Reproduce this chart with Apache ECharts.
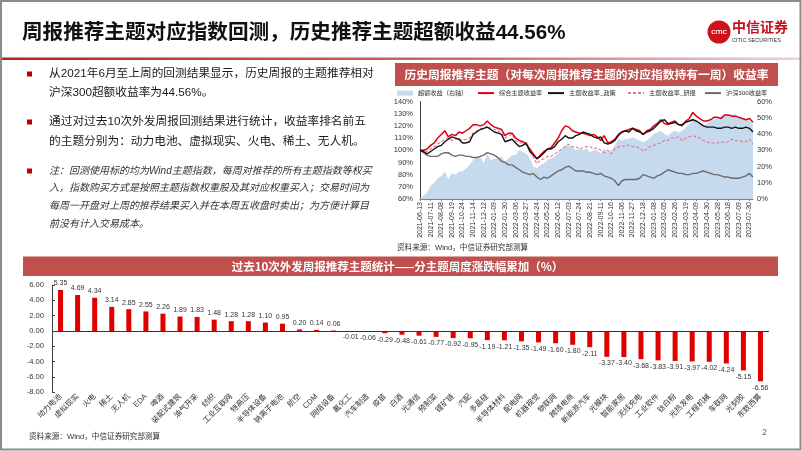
<!DOCTYPE html>
<html><head><meta charset="utf-8">
<script src="https://cdn.jsdelivr.net/npm/echarts@6/dist/echarts.min.js"></script>
<style>html,body{margin:0;padding:0;background:#fff;}#c{width:802px;height:451px;}</style>
</head><body><div id="c"></div>
<script>
const FONT = '"Liberation Sans", "Noto Sans CJK SC", sans-serif';

// ---- top chart data ----
const dates = [
 '2021-06-13','2021-06-20','2021-06-27','2021-07-11','2021-07-18','2021-07-25','2021-08-08','2021-08-15','2021-08-29','2021-09-19',
 '2021-09-26','2021-10-17','2021-10-24','2021-10-31','2021-11-07','2021-11-14','2021-11-21','2021-12-05','2021-12-12','2021-12-19',
 '2021-12-26','2022-01-09','2022-01-16','2022-01-23','2022-01-30','2022-02-13','2022-02-27','2022-03-06','2022-03-13','2022-03-20',
 '2022-03-27','2022-04-10','2022-04-17','2022-04-24','2022-05-08','2022-05-15','2022-05-22','2022-05-29','2022-06-05','2022-06-12',
 '2022-06-19','2022-06-26','2022-07-03','2022-07-10','2022-07-17','2022-07-24','2022-07-31','2022-08-14','2022-08-21','2022-08-28',
 '2022-09-04','2022-09-11','2022-09-18','2022-09-25','2022-10-16','2022-10-23','2022-10-30','2022-11-06','2022-11-13','2022-11-20',
 '2022-11-27','2022-12-04','2022-12-11','2022-12-18','2022-12-25','2023-01-01','2023-01-08','2023-01-15','2023-01-29','2023-02-05',
 '2023-02-12','2023-02-19','2023-02-26','2023-03-05','2023-03-12','2023-03-19','2023-03-26','2023-04-02','2023-04-09','2023-04-16',
 '2023-04-23','2023-04-30','2023-05-14','2023-05-21','2023-05-28','2023-06-04','2023-06-11','2023-06-18','2023-06-25','2023-07-02',
 '2023-07-09','2023-07-16','2023-07-23','2023-07-30','2023-08-06'
];
const excess = [
 0,2,4,8,10,13,14,17,12,16,
 15,17,17,19,21,24,26,26,22,28,
 24,25,25,26,23,25,27,27,30,29,
 28,25,20,19,21,22,24,25,26,28,
 31,33,33,32,30,31,30,31,29,30,
 30,28,31,29,30,33,37,36,37,37,
 38,37,36,35,36,38,40,41,42,40,
 39,41,42,41,42,44,46,49,48,46,
 45,46,48,49,50,51,52,52,52,52,
 51,50,49,48,46
];
const combined = [
 100,100,101,104,106,110,113,116,111,113,
 112,115,114,116,118,121,121,120,121,124,
 121,119,118,117,112,114,114,110,108,107,
 105,101,97,93,96,99,101,102,106,110,
 116,120,119,116,115,114,114,113,112,113,
 111,108,112,106,107,109,113,115,116,117,
 118,117,116,113,116,117,120,122,125,122,
 121,123,124,121,120,124,126,131,128,126,
 124,124,125,127,127,126,129,129,128,128,
 127,126,125,126,123
];
const policy = [
 100,99,97,99,101,103,104,107,109,111,
 110,109,106,106,107,113,115,117,118,119,
 117,115,114,113,107,108,109,106,103,104,
 106,99,96,93,95,98,101,101,103,107,
 109,112,110,110,112,113,115,114,113,111,
 110,111,106,105,106,108,112,115,116,115,
 118,116,115,113,115,116,118,121,124,125,
 122,122,123,121,121,123,124,125,124,122,
 120,119,119,119,118,118,119,119,118,119,
 118,118,119,118,115
];
const research = [
 100,100,99,101,103,105,107,109,110,108,
 109,110,108,109,110,114,116,117,118,120,
 118,117,116,114,110,112,113,108,106,106,
 104,100,94,89,92,93,95,95,97,99,
 101,103,105,103,103,101,102,103,103,101,
 102,100,98,100,97,101,103,103,104,104,
 103,103,102,99,101,103,104,105,106,108,
 108,110,110,111,108,110,111,112,111,110,
 108,107,106,106,106,107,106,107,109,108,
 108,107,107,109,105
];
const hs300 = [
 100,98,96,95,95,95,97,98,98,96,
 95,96,96,95,95,94,94,95,96,98,
 97,96,94,91,90,88,88,86,84,82,
 81,80,81,78,76,78,77,79,81,83,
 84,86,87,85,83,83,83,82,82,81,
 80,81,79,78,77,75,71,75,76,76,
 76,76,77,80,79,78,77,79,80,82,
 84,83,82,81,81,80,80,81,81,82,
 83,82,81,80,80,79,78,78,77,77,
 77,78,79,81,78
];
const seriesNames = ['超额收益（右轴）','综合主题收益率','主题收益率_政策','主题收益率_研报','沪深300收益率'];

// ---- bottom chart data ----
const themeNames = ['动力电池','虚拟现实','火电','稀土','无人机','EDA','啤酒','装配式建筑','油气开采','纺织',
 '工业互联网','特高压','半导体设备','钠离子电池','航空','CDM','网络设备','氟化工','汽车制造','疫苗',
 '白酒','光通信','预制菜','锂矿链','汽配','多晶硅','半导体材料','配电网','机器视觉','物联网',
 '跨境电商','新能源汽车','光模块','智能家居','无线充电','工业软件','钛白粉','光热发电','工程机械','车联网',
 '光刻胶','东数西算'];
const themeValues = [5.35,4.69,4.34,3.14,2.85,2.55,2.26,1.89,1.83,1.48,
 1.28,1.28,1.10,0.95,0.20,0.14,0.06,-0.01,-0.06,-0.29,
 -0.48,-0.61,-0.77,-0.92,-0.95,-1.19,-1.21,-1.35,-1.49,-1.60,
 -1.80,-2.11,-3.37,-3.40,-3.68,-3.83,-3.91,-3.97,-4.02,-4.24,
 -5.15,-6.56];

// ---- texts ----
const pageTitle = '周报推荐主题对应指数回测，历史推荐主题超额收益44.56%';
const para1 = ['从2021年6月至上周的回测结果显示，历史周报的主题推荐相对','沪深300超额收益率为44.56%。'];
const para2 = ['通过对过去10次外发周报回测结果进行统计，收益率排名前五','的主题分别为：动力电池、虚拟现实、火电、稀土、无人机。'];
const note = ['注：回测使用标的均为Wind主题指数，每周对推荐的所有主题指数等权买','入，指数购买方式是按照主题指数权重股及其对应权重买入；交易时间为','每周一开盘对上周的推荐结果买入并在本周五收盘时卖出；为方便计算目','前没有计入交易成本。'];
const topBanner = '历史周报推荐主题（对每次周报推荐主题的对应指数持有一周）收益率';
const bottomBanner = '过去10次外发周报推荐主题统计——分主题周度涨跌幅累加（%）';
const sourceText = '资料来源：Wind，中信证券研究部测算';

const chart = echarts.init(document.getElementById('c'), null, {renderer: 'canvas'});

const g = [];
// header line
g.push({type:'rect', shape:{x:0,y:57.5,width:802,height:2.5}, style:{fill:new echarts.graphic.LinearGradient(0,0,1,0,[{offset:0,color:'#B22222'},{offset:0.6,color:'#D46A6A'},{offset:1,color:'#EBD5D5'}])}});
// title
g.push({type:'text', x:22, y:33, style:{text:pageTitle, font:'bold 20.6px ' + FONT, fill:'#111', textVerticalAlign:'middle'}});
// logo
g.push({type:'circle', shape:{cx:719, cy:32, r:11.5}, style:{fill:'#D0101B'}});
g.push({type:'text', x:719, y:32, style:{text:'CITIC', font:'bold 6px ' + FONT, fill:'#fff', textAlign:'center', textVerticalAlign:'middle'}});
g.push({type:'text', x:732, y:27, style:{text:'中信证券', font:'bold 14px "Noto Sans CJK SC"', fill:'#C8101B', textVerticalAlign:'middle'}});
g.push({type:'text', x:732, y:40.5, style:{text:'CITIC SECURITIES', font:'5.5px ' + FONT, fill:'#333', textVerticalAlign:'middle'}});

// bullets
function bullet(y){ g.push({type:'rect', shape:{x:27,y:y-2.5,width:5,height:5}, style:{fill:'#C00000'}}); }
const p1y = [74, 93], p2y = [122, 142], ny = [171, 188.6, 206.3, 224];
bullet(p1y[0]); bullet(p2y[0]); bullet(ny[0]);
para1.forEach((t,i)=>g.push({type:'text', x:49, y:p1y[i], style:{text:t, font:'11.7px ' + FONT, fill:'#1a1a1a', textVerticalAlign:'middle'}}));
para2.forEach((t,i)=>g.push({type:'text', x:49, y:p2y[i], style:{text:t, font:'11.7px ' + FONT, fill:'#1a1a1a', textVerticalAlign:'middle'}}));
note.forEach((t,i)=>g.push({type:'text', x:49, y:ny[i], style:{text:t, font:'italic 10px ' + FONT, fill:'#333', textVerticalAlign:'middle'}}));

// banners
g.push({type:'rect', shape:{x:395,y:63,width:383,height:23}, style:{fill:'#C0504D'}});
g.push({type:'text', x:586.5, y:74.5, style:{text:topBanner, font:'bold 11.75px "Noto Sans CJK SC"', fill:'#fff', textAlign:'center', textVerticalAlign:'middle'}});
g.push({type:'rect', shape:{x:23,y:256.5,width:755,height:19.5}, style:{fill:'#C0504D'}});
g.push({type:'text', x:397.5, y:266.5, style:{text:bottomBanner, font:'bold 11.5px "Noto Sans CJK SC"', fill:'#fff', textAlign:'center', textVerticalAlign:'middle'}});
// sources
g.push({type:'text', x:397, y:248, style:{text:sourceText, font:'7.6px ' + FONT, fill:'#333', textVerticalAlign:'middle'}});
g.push({type:'text', x:29, y:437, style:{text:sourceText, font:'7.6px ' + FONT, fill:'#333', textVerticalAlign:'middle'}});
g.push({type:'text', x:762, y:433, style:{text:'2', font:'9px ' + FONT, fill:'#666', textVerticalAlign:'middle'}});
// border
g.push({type:'rect', shape:{x:1,y:1,width:799.5,height:448.5}, style:{fill:'none', stroke:'#8c8c8c', lineWidth:2}, z:100});

const barData = themeValues.map(v => ({value: v, label: {position: v >= 0 ? 'top' : 'bottom'}}));

const legendLefts = [397, 477, 547, 627, 704];
const legends = seriesNames.map((n, i) => ({
  top: 90, left: legendLefts[i], padding: 0, itemWidth: 16, itemHeight: 5,
  textStyle: {fontSize: 6.2, color: '#333', fontFamily: FONT},
  data: [i === 0 ? {name: n, icon: 'rect'} : {name: n, itemStyle: {opacity: 0}}]
}));

const option = {
  animation: false,
  textStyle: {fontFamily: FONT},
  graphic: g,
  grid: [
    {left: 420, right: 49, top: 101.5, bottom: 252},
    {left: 52, right: 33, top: 285, bottom: 58.7}
  ],
  legend: legends,
  xAxis: [
    {gridIndex: 0, type: 'category', data: dates, boundaryGap: false,
     axisLine: {lineStyle: {color: '#808080'}},
     axisTick: {show: true, interval: 2, length: 2, lineStyle: {color: '#808080'}},
     axisLabel: {interval: 2, rotate: 90, fontSize: 7, color: '#333', margin: 3}},
    {gridIndex: 1, type: 'category', data: themeNames,
     axisLine: {show: false}, axisTick: {show: false},
     axisLabel: {interval: 0, rotate: 45, fontSize: 7.6, color: '#333', margin: 3}}
  ],
  yAxis: [
    {gridIndex: 0, type: 'value', min: 60, max: 140, interval: 10,
     axisLine: {show: true, lineStyle: {color: '#444'}}, axisTick: {show: false}, splitLine: {show: false},
     axisLabel: {formatter: '{value}%', fontSize: 7.5, color: '#333', margin: 7}},
    {gridIndex: 0, type: 'value', min: 0, max: 60, interval: 10, position: 'right',
     axisLine: {show: false}, axisTick: {show: false}, splitLine: {show: false},
     axisLabel: {formatter: '{value}%', fontSize: 7.5, color: '#333', margin: 4}},
    {gridIndex: 1, type: 'value', min: -8, max: 6, interval: 2,
     axisLine: {show: true, lineStyle: {color: '#444'}}, axisTick: {show: true, inside: true, length: 3, lineStyle: {color: '#444'}},
     splitLine: {show: false},
     axisLabel: {formatter: v => v.toFixed(2), fontSize: 7.6, color: '#333', margin: 8}}
  ],
  series: [
    {name: seriesNames[0], type: 'line', xAxisIndex: 0, yAxisIndex: 1, data: excess, symbol: 'none',
     lineStyle: {width: 0}, areaStyle: {color: '#C6DAEE', opacity: 1}, itemStyle: {color: '#C6DAEE'}, z: 1},
    {name: seriesNames[3], type: 'line', xAxisIndex: 0, yAxisIndex: 0, data: research, symbol: 'none',
     lineStyle: {color: '#E07590', width: 1.1, type: [3, 2]}, itemStyle: {color: '#E07590'}, z: 3},
    {name: seriesNames[4], type: 'line', xAxisIndex: 0, yAxisIndex: 0, data: hs300, symbol: 'none',
     lineStyle: {color: '#6b6b6b', width: 1.4}, itemStyle: {color: '#6b6b6b'}, z: 3},
    {name: seriesNames[1], type: 'line', xAxisIndex: 0, yAxisIndex: 0, data: combined, symbol: 'none',
     lineStyle: {color: '#E00010', width: 1.5}, itemStyle: {color: '#E00010'}, z: 4},
    {name: seriesNames[2], type: 'line', xAxisIndex: 0, yAxisIndex: 0, data: policy, symbol: 'none',
     lineStyle: {color: '#141414', width: 1.4}, itemStyle: {color: '#141414'}, z: 5},
    {type: 'bar', xAxisIndex: 1, yAxisIndex: 2, data: barData, barWidth: 5,
     itemStyle: {color: '#E00000'},
     label: {show: true, fontSize: 7, color: '#333', distance: 3, formatter: p => p.value.toFixed(2)},
     markLine: {silent: true, symbol: 'none', label: {show: false}, lineStyle: {color: '#333', width: 1, type: 'solid'}, data: [{yAxis: 0}]}}
  ]
};
chart.setOption(option);
</script>
</body></html>
